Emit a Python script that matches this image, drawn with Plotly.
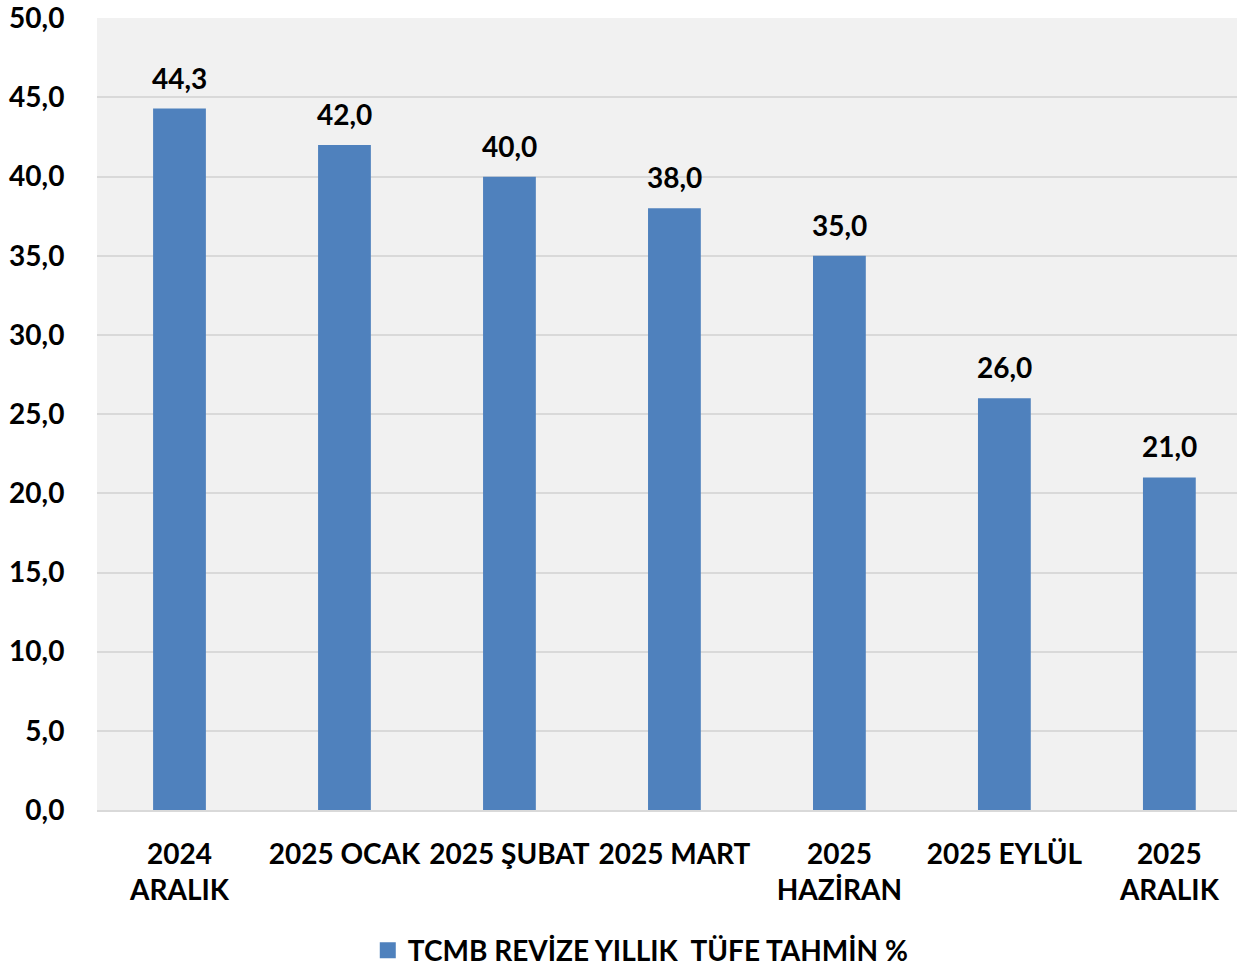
import plotly.graph_objects as go

categories = ["2024<br>ARALIK", "2025 OCAK", "2025 ŞUBAT", "2025 MART", "2025<br>HAZİRAN", "2025 EYLÜL", "2025<br>ARALIK"]
values = [44.3, 42.0, 40.0, 38.0, 35.0, 26.0, 21.0]
series_name = "TCMB REVİZE YILLIK  TÜFE TAHMİN %"
y_ticks = [0, 5, 10, 15, 20, 25, 30, 35, 40, 45, 50]

FONT = "Lato"
BLUE = "#4F81BD"
xs = list(range(len(categories)))
fig = go.Figure()
fig.add_trace(go.Bar(
    x=xs, y=values, name=series_name, showlegend=False,
    marker=dict(color=BLUE, line=dict(width=0)),
    width=0.32,
))
# legend entry with larger square swatch
fig.add_trace(go.Scatter(
    x=[None], y=[None], mode="markers", name=series_name,
    marker=dict(symbol="square", size=17, color=BLUE),
))
for x, v in zip(xs, values):
    fig.add_annotation(x=x, y=v, text=f"{v:.1f}".replace(".", ","), showarrow=False,
                       yanchor="middle", yshift=31,
                       font=dict(family=FONT, size=28, color="black", weight="bold"))
fig.update_layout(
    width=1237, height=968,
    margin=dict(l=97, r=0, t=18, b=158, autoexpand=False),
    plot_bgcolor="#F1F1F1", paper_bgcolor="white",
    separators=",.",
    font=dict(family=FONT, size=28, color="black", weight="bold"),
    showlegend=True,
    legend=dict(orientation="h", x=0.477, xanchor="center", y=-0.146, yanchor="top",
                itemsizing="trace",
                font=dict(family=FONT, size=28, color="black", weight="bold")),
    xaxis=dict(range=[-0.5, 6.41], tickmode="array", tickvals=xs, automargin=False,
               ticktext=categories, showgrid=False, zeroline=False,
               showline=True, linecolor="#D9D9D9", linewidth=2,
               ticks="outside", ticklen=18, tickcolor="rgba(0,0,0,0)",
               ticklabeloverflow="allow"),
    yaxis=dict(range=[0, 50.02], tickmode="array", tickvals=y_ticks, tickformat=".1f", automargin=False,
               showgrid=True, gridcolor="#D9D9D9", gridwidth=2, zeroline=False,
               showline=False, ticklabeloverflow="allow",
               ticks="outside", ticklen=26, tickcolor="rgba(0,0,0,0)"),
)
fig.write_html("out.html", config={"displayModeBar": False},
               post_script="document.body.style.margin='0';document.body.style.overflow='hidden';")
